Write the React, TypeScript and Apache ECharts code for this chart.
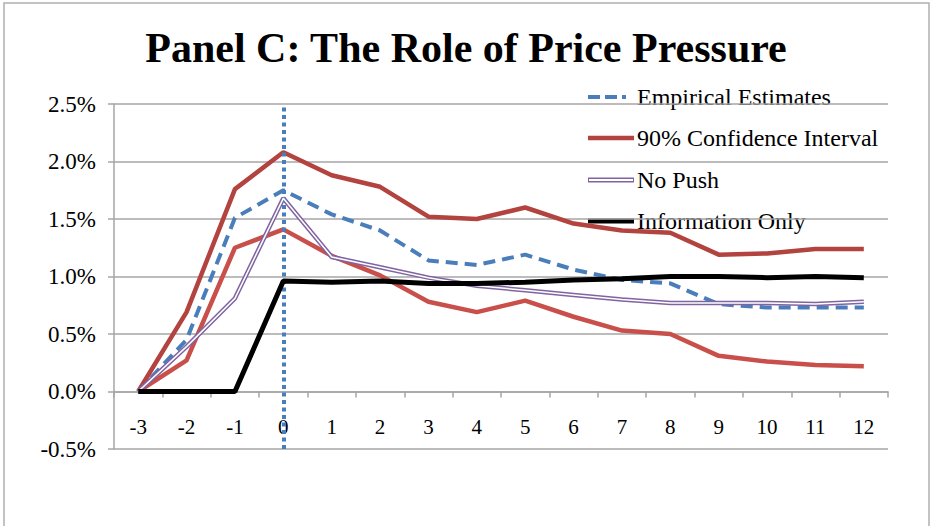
import React, { useEffect, useRef } from "react";
import * as echarts from "echarts";

// Event-time categories (periods relative to the event)
const periods = ["-3", "-2", "-1", "0", "1", "2", "3", "4", "5", "6", "7", "8", "9", "10", "11", "12"];

// Cumulative returns, in percent
const empiricalEstimates = [0, 0.45, 1.51, 1.75, 1.54, 1.4, 1.14, 1.1, 1.19, 1.06, 0.97, 0.94, 0.76, 0.73, 0.73, 0.73];
const ciUpper = [0, 0.69, 1.76, 2.08, 1.88, 1.78, 1.52, 1.5, 1.6, 1.46, 1.4, 1.38, 1.19, 1.2, 1.24, 1.24];
const ciLower = [0, 0.27, 1.25, 1.41, 1.18, 1.01, 0.78, 0.69, 0.79, 0.65, 0.53, 0.5, 0.31, 0.26, 0.23, 0.22];
const noPush = [0, 0.39, 0.81, 1.68, 1.17, 1.08, 0.99, 0.92, 0.88, 0.84, 0.8, 0.77, 0.77, 0.77, 0.76, 0.78];
const informationOnly = [0, 0, 0, 0.96, 0.95, 0.96, 0.94, 0.94, 0.95, 0.97, 0.98, 1.0, 1.0, 0.99, 1.0, 0.99];

const yTicks = { min: -0.5, max: 2.5, interval: 0.5 };

const SERIF = "Liberation Serif";
const BLUE = "#4a7ebb";
const RED_DARK = "#b2433f";
const RED_LIGHT = "#c94f4a";
const PURPLE = "#8064a2";
const GRID_GRAY = "#a6a6a6";

const GRID = { left: 114, right: 44, top: 104, bottom: 77 };
const HEIGHT = 526;

function legendItems() {
  const x0 = 588;
  const x1 = 634;
  const tx = 637;
  const rows = [97, 138, 180, 221];
  const labels = ["Empirical Estimates", "90% Confidence Interval", "No Push", "Information Only"];
  const els: any[] = [];
  // dashed blue sample: dash, dash, dot
  els.push({
    type: "line",
    shape: { x1: x0, y1: rows[0], x2: x0 + 12, y2: rows[0] },
    style: { stroke: BLUE, lineWidth: 4 },
  });
  els.push({
    type: "line",
    shape: { x1: x0 + 17, y1: rows[0], x2: x0 + 29, y2: rows[0] },
    style: { stroke: BLUE, lineWidth: 4 },
  });
  els.push({
    type: "line",
    shape: { x1: x0 + 34, y1: rows[0], x2: x0 + 38, y2: rows[0] },
    style: { stroke: BLUE, lineWidth: 4 },
  });
  els.push({
    type: "line",
    shape: { x1: x0, y1: rows[1], x2: x1, y2: rows[1] },
    style: { stroke: RED_DARK, lineWidth: 4.5 },
  });
  els.push({
    type: "line",
    shape: { x1: x0, y1: rows[2], x2: x1, y2: rows[2] },
    style: { stroke: PURPLE, lineWidth: 5 },
  });
  els.push({
    type: "line",
    shape: { x1: x0 + 1, y1: rows[2], x2: x1 - 1, y2: rows[2] },
    style: { stroke: "#ffffff", lineWidth: 1.8 },
  });
  els.push({
    type: "line",
    shape: { x1: x0, y1: rows[3], x2: x1, y2: rows[3] },
    style: { stroke: "#000000", lineWidth: 5 },
  });
  labels.forEach((t, i) => {
    els.push({
      type: "text",
      x: tx,
      y: rows[i],
      style: {
        text: t,
        fontFamily: SERIF,
        fontSize: 24,
        fill: "#000000",
        verticalAlign: "middle",
        align: "left",
      },
    });
  });
  return els;
}

export default function App() {
  const ref = useRef<HTMLDivElement>(null);

  useEffect(() => {
    if (!ref.current) return;
    const chart = echarts.init(ref.current, undefined, { renderer: "svg" });
    const zeroIndex = periods.indexOf("0");

    // lift the category axis from the bottom edge up to the zero line
    const plotHeight = HEIGHT - GRID.top - GRID.bottom;
    const zeroLift = (plotHeight * (0 - yTicks.min)) / (yTicks.max - yTicks.min);

    chart.setOption({
      animation: false,
      backgroundColor: "#ffffff",
      textStyle: { fontFamily: SERIF },
      title: {
        text: "Panel C: The Role of Price Pressure",
        left: "center",
        top: 22,
        textStyle: {
          fontFamily: SERIF,
          fontWeight: "bold",
          fontSize: 42,
          color: "#000000",
        },
      },
      grid: GRID,
      xAxis: {
        type: "category",
        data: periods,
        boundaryGap: true,
        offset: -zeroLift,
        axisLine: {
          onZero: false,
          lineStyle: { color: GRID_GRAY, width: 1.5 },
        },
        axisTick: { show: true, length: 6, alignWithLabel: false, lineStyle: { color: GRID_GRAY, width: 1.5 } },
        axisLabel: {
          margin: 25,
          fontFamily: SERIF,
          fontSize: 21,
          color: "#000000",
          interval: 0,
        },
        splitLine: { show: false },
      },
      yAxis: {
        type: "value",
        min: yTicks.min,
        max: yTicks.max,
        interval: yTicks.interval,
        axisLine: { show: true, onZero: false, lineStyle: { color: GRID_GRAY, width: 1.5 } },
        axisTick: { show: true, length: 6, lineStyle: { color: GRID_GRAY, width: 1.5 } },
        axisLabel: {
          margin: 18,
          fontFamily: SERIF,
          fontSize: 23,
          color: "#000000",
          formatter: (v: number) => `${v.toFixed(1)}%`,
        },
        splitLine: { show: true, lineStyle: { color: GRID_GRAY, width: 1.5 } },
      },
      series: [
        {
          name: "Empirical Estimates",
          type: "line",
          data: empiricalEstimates,
          symbol: "none",
          z: 2,
          lineStyle: { color: BLUE, width: 4, type: [12, 7] },
        },
        {
          name: "90% Confidence Interval",
          type: "line",
          data: ciUpper,
          symbol: "none",
          z: 3,
          lineStyle: { color: RED_DARK, width: 4.5 },
        },
        {
          name: "90% Confidence Interval",
          type: "line",
          data: ciLower,
          symbol: "none",
          z: 3,
          lineStyle: { color: RED_LIGHT, width: 4.5 },
        },
        {
          name: "No Push",
          type: "line",
          data: noPush,
          symbol: "none",
          z: 4,
          lineStyle: { color: PURPLE, width: 4.5 },
        },
        {
          name: "No Push",
          type: "line",
          data: noPush,
          symbol: "none",
          z: 5,
          lineStyle: { color: "#ffffff", width: 1.5 },
        },
        {
          name: "Information Only",
          type: "line",
          data: informationOnly,
          symbol: "none",
          z: 6,
          lineStyle: { color: "#000000", width: 5 },
          markLine: {
            silent: true,
            symbol: "none",
            label: { show: false },
            lineStyle: { color: BLUE, width: 4, type: [4, 3.5] },
            data: [{ xAxis: zeroIndex }],
          },
        },
      ],
      graphic: [
        {
          type: "rect",
          shape: { x: 4, y: 3, width: 925, height: 560 },
          style: { fill: "none", stroke: "#b0b0b0", lineWidth: 1.5 },
          silent: true,
          z: -10,
        },
        ...legendItems(),
      ],
    });

    return () => chart.dispose();
  }, []);

  return (
    <div
      ref={ref}
      style={{ position: "fixed", left: 0, top: 0, width: 932, height: HEIGHT }}
    />
  );
}
